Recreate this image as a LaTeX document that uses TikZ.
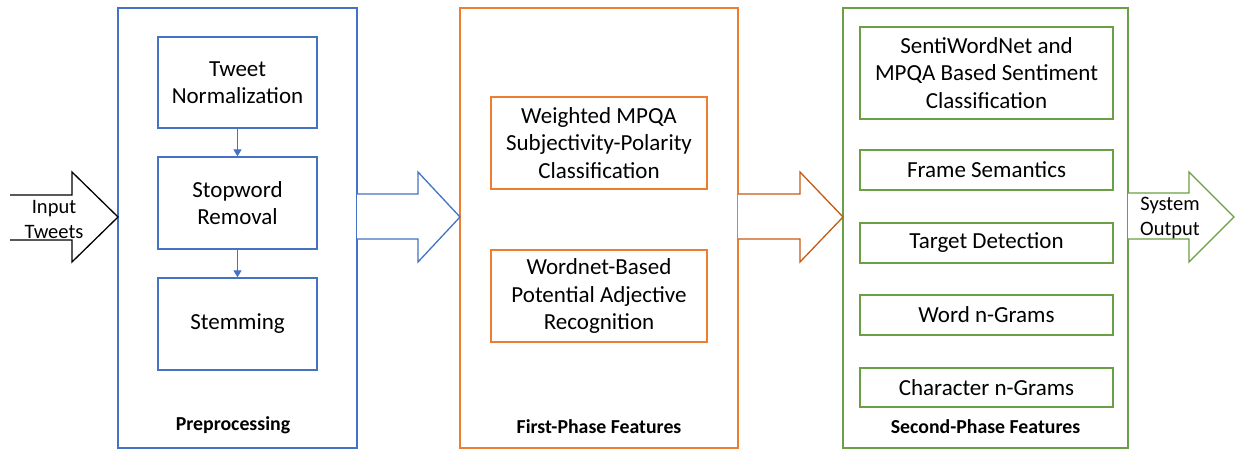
\documentclass[tikz,border=0pt]{standalone}
\usepackage{fontspec}
\setmainfont{Carlito}
\usetikzlibrary{arrows.meta}
\definecolor{cblue}{HTML}{4472C4}
\definecolor{corange}{HTML}{ED7D31}
\definecolor{cdorange}{HTML}{C55A11}
\definecolor{cgreen}{HTML}{6A9F45}
\tikzset{
  box/.style={draw, line width=1.3pt, inner sep=0pt, align=center, font=\fontsize{23}{27.5}\selectfont},
  outerbox/.style={draw, line width=1.3pt, inner sep=0pt},
  pbox/.style={box, draw=cblue},
  obox/.style={box, draw=corange},
  gbox/.style={box, draw=cgreen},
  grouplabel/.style={font=\fontsize{19.8}{23}\selectfont\bfseries},
  smalltext/.style={align=center, inner sep=0pt, font=\fontsize{20.5}{25}\selectfont},
  blockarrow/.style={line width=1.3pt, fill=white, line join=miter},
  flow/.style={draw=cblue, line width=1pt, -{Triangle[length=7pt,width=8pt]}}
}
\newcommand\blkarrow[6]{% color, x0, xh, x1, shaft top, shaft bottom
  \draw[blockarrow, draw=#1] (#2,#5) -- (#3,#5) -- (#3,172) -- (#4,217) -- (#3,262) -- (#3,#6) -- (#2,#6);
}
\begin{document}
\begin{tikzpicture}[x=1pt,y=-1pt]
\useasboundingbox (0,0) rectangle (1238,452);
% outer boxes
\node[outerbox, draw=cblue, minimum width=239pt, minimum height=440pt] (pre) at (237.5,228) {};
\node[outerbox, draw=corange, minimum width=278pt, minimum height=440pt] (first) at (599,228) {};
\node[outerbox, draw=cgreen, minimum width=285pt, minimum height=440pt] (second) at (985.5,228) {};
% preprocessing
\node[pbox, minimum width=159pt, minimum height=91pt] (tn) at (237.5,82.5) {Tweet\\Normalization};
\node[pbox, minimum width=159pt, minimum height=92pt] (sr) at (237.5,203) {Stopword\\Removal};
\node[pbox, minimum width=159pt, minimum height=92pt] (st) at (237.5,324) {Stemming};
\draw[flow] (tn.south) -- (sr.north);
\draw[flow] (sr.south) -- (st.north);
\node[grouplabel] (prel) at (233,425) {Preprocessing};
% first phase
\node[obox, minimum width=216pt, minimum height=92pt] (wm) at (599,143) {Weighted MPQA\\Subjectivity-Polarity\\Classification};
\node[obox, minimum width=216pt, minimum height=92pt] (wn) at (599,296) {Wordnet-Based\\Potential Adjective\\Recognition};
\node[grouplabel] (firstl) at (599,427) {First-Phase Features};
% second phase
\node[gbox, minimum width=253pt, minimum height=92pt] (swn) at (986.5,73) {SentiWordNet and\\MPQA Based Sentiment\\Classification};
\node[gbox, minimum width=253pt, minimum height=40pt] (fs) at (986.5,170) {Frame Semantics};
\node[gbox, minimum width=253pt, minimum height=40pt] (td) at (986.5,243) {Target Detection};
\node[gbox, minimum width=253pt, minimum height=40pt] (wg) at (986.5,315) {Word n-Grams};
\node[gbox, minimum width=253pt, minimum height=39pt] (cg) at (986.5,387.5) {Character n-Grams};
\node[grouplabel] (secondl) at (985.5,427) {Second-Phase Features};
% block arrows
\blkarrow{black}{10}{72}{118}{195}{240}
\blkarrow{cblue}{357}{418}{460}{194}{239}
\blkarrow{cdorange}{738}{800}{843}{194}{239}
\blkarrow{cgreen}{1128}{1189}{1234}{193}{239}
\node[smalltext] (in) at (54,219) {Input\\Tweets};
\node[smalltext] (out) at (1170,218) {System\\Output};
\end{tikzpicture}
\end{document}
